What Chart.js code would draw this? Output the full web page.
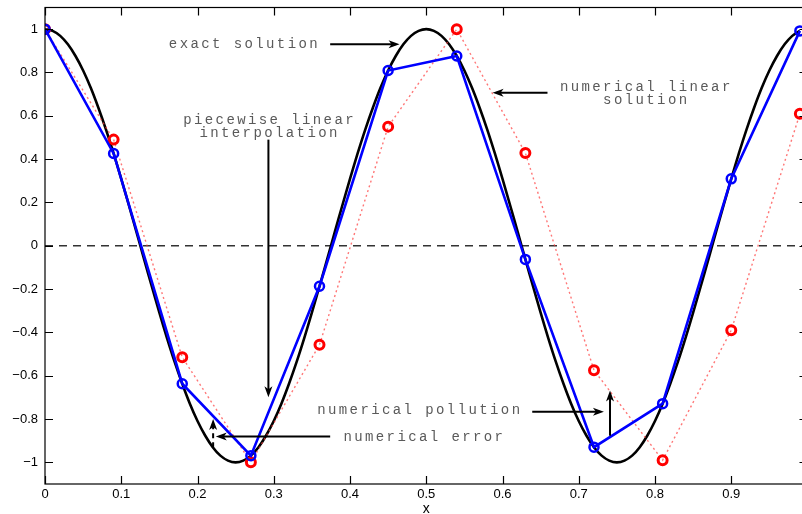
<!DOCTYPE html>
<html lang="en">
<head>
    <meta charset="UTF-8">
    <title>Exact vs numerical linear solution</title>
    <script src="https://cdn.jsdelivr.net/npm/chart.js"></script>
    <style>
        body {
            margin: 0;
            overflow: hidden;
            background: #fff;
        }
        #wrap {
            width: 815px;
            height: 514px;
        }
    </style>
</head>
<body>

<div id="wrap"><canvas id="waveChart" width="815" height="514"></canvas></div>

<script>
    // nodes of the mesh (h = 0.09)
    const nodeX = [0, 0.09, 0.18, 0.27, 0.36, 0.45, 0.54, 0.63, 0.72, 0.81, 0.90, 0.99];
    // piecewise linear interpolation of the exact solution (blue)
    const interpY = [1, 0.426, -0.637, -0.969, -0.187, 0.809, 0.876, -0.063, -0.930, -0.729, 0.309, 0.992];
    // numerical linear solution (red, dotted)
    const numericalY = [1, 0.49, -0.515, -1.0, -0.457, 0.55, 1.0, 0.428, -0.575, -0.99, -0.39, 0.609];

    // exact solution
    const exactX = [
        0, 0.01, 0.02, 0.03, 0.04, 0.05, 0.06, 0.07, 0.08, 0.09,
        0.10, 0.11, 0.12, 0.13, 0.14, 0.15, 0.16, 0.17, 0.18, 0.19,
        0.20, 0.21, 0.22, 0.23, 0.24, 0.25, 0.26, 0.27, 0.28, 0.29,
        0.30, 0.31, 0.32, 0.33, 0.34, 0.35, 0.36, 0.37, 0.38, 0.39,
        0.40, 0.41, 0.42, 0.43, 0.44, 0.45, 0.46, 0.47, 0.48, 0.49,
        0.50, 0.51, 0.52, 0.53, 0.54, 0.55, 0.56, 0.57, 0.58, 0.59,
        0.60, 0.61, 0.62, 0.63, 0.64, 0.65, 0.66, 0.67, 0.68, 0.69,
        0.70, 0.71, 0.72, 0.73, 0.74, 0.75, 0.76, 0.77, 0.78, 0.79,
        0.80, 0.81, 0.82, 0.83, 0.84, 0.85, 0.86, 0.87, 0.88, 0.89,
        0.90, 0.91, 0.92, 0.93, 0.94, 0.95, 0.96, 0.97, 0.98, 0.99
    ];
    const exactY = [
        1, 0.992, 0.969, 0.930, 0.876, 0.809, 0.729, 0.637, 0.536, 0.426,
        0.309, 0.187, 0.063, -0.063, -0.187, -0.309, -0.426, -0.536, -0.637, -0.729,
        -0.809, -0.876, -0.930, -0.969, -0.992, -1, -0.992, -0.969, -0.930, -0.876,
        -0.809, -0.729, -0.637, -0.536, -0.426, -0.309, -0.187, -0.063, 0.063, 0.187,
        0.309, 0.426, 0.536, 0.637, 0.729, 0.809, 0.876, 0.930, 0.969, 0.992,
        1, 0.992, 0.969, 0.930, 0.876, 0.809, 0.729, 0.637, 0.536, 0.426,
        0.309, 0.187, 0.063, -0.063, -0.187, -0.309, -0.426, -0.536, -0.637, -0.729,
        -0.809, -0.876, -0.930, -0.969, -0.992, -1, -0.992, -0.969, -0.930, -0.876,
        -0.809, -0.729, -0.637, -0.536, -0.426, -0.309, -0.187, -0.063, 0.063, 0.187,
        0.309, 0.426, 0.536, 0.637, 0.729, 0.809, 0.876, 0.930, 0.969, 0.992
    ];

    const zeroX = [0, 1];
    const zeroY = [0, 0];

    const xTicks = [0, 0.1, 0.2, 0.3, 0.4, 0.5, 0.6, 0.7, 0.8, 0.9, 1];
    const yTicks = [-1, -0.8, -0.6, -0.4, -0.2, 0, 0.2, 0.4, 0.6, 0.8, 1];

    // text labels and arrows, in data units
    const notes = [
        { lines: ['exact solution'], x: 0.26, y: 0.93 },
        { lines: ['piecewise linear', 'interpolation'], x: 0.293, y: 0.577 },
        { lines: ['numerical linear', 'solution'], x: 0.787, y: 0.73 },
        { lines: ['numerical pollution'], x: 0.49, y: -0.762 },
        { lines: ['numerical error'], x: 0.496, y: -0.886 }
    ];
    const arrows = [
        { from: [0.374, 0.93], to: [0.465, 0.93] },
        { from: [0.293, 0.49], to: [0.293, -0.70] },
        { from: [0.659, 0.706], to: [0.587, 0.706] },
        { from: [0.639, -0.766], to: [0.733, -0.766] },
        { from: [0.741, -0.877], to: [0.741, -0.668] },
        { from: [0.374, -0.881], to: [0.224, -0.881] },
        { from: [0.2205, -0.93], to: [0.2205, -0.80], dashed: true }
    ];

    const pts = (xs, ys) => xs.map((x, i) => ({ x: x, y: ys[i] }));
    const fmt = v => String(Number(v.toFixed(1))).replace('-', '\u2212');

    Chart.defaults.font.family = '"Liberation Sans", Arial, sans-serif';
    Chart.defaults.font.size = 13;
    Chart.defaults.color = '#000';

    function drawArrow(ctx, x1, y1, x2, y2, dashed) {
        const ang = Math.atan2(y2 - y1, x2 - x1);
        const len = 11, half = 4;
        ctx.save();
        ctx.strokeStyle = '#000';
        ctx.fillStyle = '#000';
        ctx.lineWidth = 2;
        if (dashed) ctx.setLineDash([5, 4]);
        ctx.beginPath();
        ctx.moveTo(x1, y1);
        ctx.lineTo(x2 - Math.cos(ang) * 4, y2 - Math.sin(ang) * 4);
        ctx.stroke();
        ctx.setLineDash([]);
        ctx.translate(x2, y2);
        ctx.rotate(ang);
        ctx.beginPath();
        ctx.moveTo(0, 0);
        ctx.lineTo(-len, -half);
        ctx.lineTo(-len + 3, 0);
        ctx.lineTo(-len, half);
        ctx.closePath();
        ctx.fill();
        ctx.restore();
    }

    const framePlugin = {
        id: 'frame',
        afterDraw(chart) {
            const ctx = chart.ctx;
            const a = chart.chartArea;
            const xs = chart.scales.x, ys = chart.scales.y;

            ctx.save();
            // axes box with inward ticks
            ctx.strokeStyle = '#000';
            ctx.lineWidth = 1.2;
            ctx.strokeRect(a.left, a.top, a.right - a.left, a.bottom - a.top);
            ctx.beginPath();
            xTicks.forEach(v => {
                const px = Math.round(xs.getPixelForValue(v)) + 0.5;
                ctx.moveTo(px, a.bottom); ctx.lineTo(px, a.bottom - 8);
                ctx.moveTo(px, a.top); ctx.lineTo(px, a.top + 8);
            });
            yTicks.forEach(v => {
                const py = Math.round(ys.getPixelForValue(v)) + 0.5;
                ctx.moveTo(a.left, py); ctx.lineTo(a.left + 8, py);
                ctx.moveTo(a.right, py); ctx.lineTo(a.right - 8, py);
            });
            ctx.stroke();

            // x axis title
            ctx.fillStyle = '#000';
            ctx.font = '14px "Liberation Sans", Arial, sans-serif';
            ctx.textAlign = 'center';
            ctx.textBaseline = 'middle';
            ctx.fillText('x', xs.getPixelForValue(0.5), 509);

            // annotations
            ctx.fillStyle = '#5a5a5a';
            ctx.font = '14px "Liberation Mono", "Courier New", monospace';
            ctx.letterSpacing = '2.4px';
            notes.forEach(n => {
                const px = xs.getPixelForValue(n.x);
                n.lines.forEach((t, i) => {
                    const py = ys.getPixelForValue(n.y) + i * 13;
                    ctx.fillText(t, px + 1.2, py);
                });
            });
            ctx.restore();

            arrows.forEach(ar => {
                drawArrow(ctx,
                    xs.getPixelForValue(ar.from[0]), ys.getPixelForValue(ar.from[1]),
                    xs.getPixelForValue(ar.to[0]), ys.getPixelForValue(ar.to[1]),
                    ar.dashed);
            });
        }
    };

    const ctx = document.getElementById('waveChart').getContext('2d');
    new Chart(ctx, {
        type: 'scatter',
        data: {
            datasets: [
                {
                    label: 'zero',
                    data: pts(zeroX, zeroY),
                    showLine: true,
                    borderColor: '#333',
                    borderWidth: 1.3,
                    borderDash: [8, 6],
                    pointRadius: 0,
                    order: 4
                },
                {
                    label: 'exact solution',
                    data: pts(exactX, exactY),
                    showLine: true,
                    borderColor: '#000',
                    borderWidth: 2.6,
                    tension: 0.3,
                    pointRadius: 0,
                    order: 3
                },
                {
                    label: 'numerical linear solution',
                    data: pts(nodeX, numericalY),
                    showLine: true,
                    borderColor: 'rgba(255, 60, 60, 0.7)',
                    borderWidth: 1.4,
                    borderDash: [2, 3],
                    pointRadius: 4.5,
                    pointBorderWidth: 3,
                    pointBorderColor: '#f00',
                    pointBackgroundColor: 'rgba(255,255,255,0)',
                    order: 2
                },
                {
                    label: 'piecewise linear interpolation',
                    data: pts(nodeX, interpY),
                    showLine: true,
                    borderColor: '#0000ff',
                    borderWidth: 2.6,
                    pointRadius: 4.5,
                    pointBorderWidth: 2.5,
                    pointBorderColor: '#0000ff',
                    pointBackgroundColor: 'rgba(255,255,255,0)',
                    order: 1
                }
            ]
        },
        options: {
            responsive: false,
            animation: false,
            layout: { padding: { top: 7, right: 5, left: 0, bottom: 0 } },
            plugins: {
                legend: { display: false },
                tooltip: { enabled: false }
            },
            scales: {
                x: {
                    type: 'linear',
                    min: 0,
                    max: 1,
                    grid: { display: false, drawTicks: false },
                    border: { display: false },
                    ticks: { padding: 3, callback: v => fmt(v) },
                    afterBuildTicks: s => { s.ticks = xTicks.map(v => ({ value: v })); },
                    afterFit: s => { s.height = 30; }
                },
                y: {
                    type: 'linear',
                    min: -1.1,
                    max: 1.1,
                    grid: { display: false, drawTicks: false },
                    border: { display: false },
                    ticks: { padding: 7, callback: v => fmt(v) },
                    afterBuildTicks: s => { s.ticks = yTicks.map(v => ({ value: v })); },
                    afterFit: s => { s.width = 45; s.paddingTop = 0; s.paddingBottom = 0; }
                }
            }
        },
        plugins: [framePlugin]
    });
</script>

</body>
</html>
